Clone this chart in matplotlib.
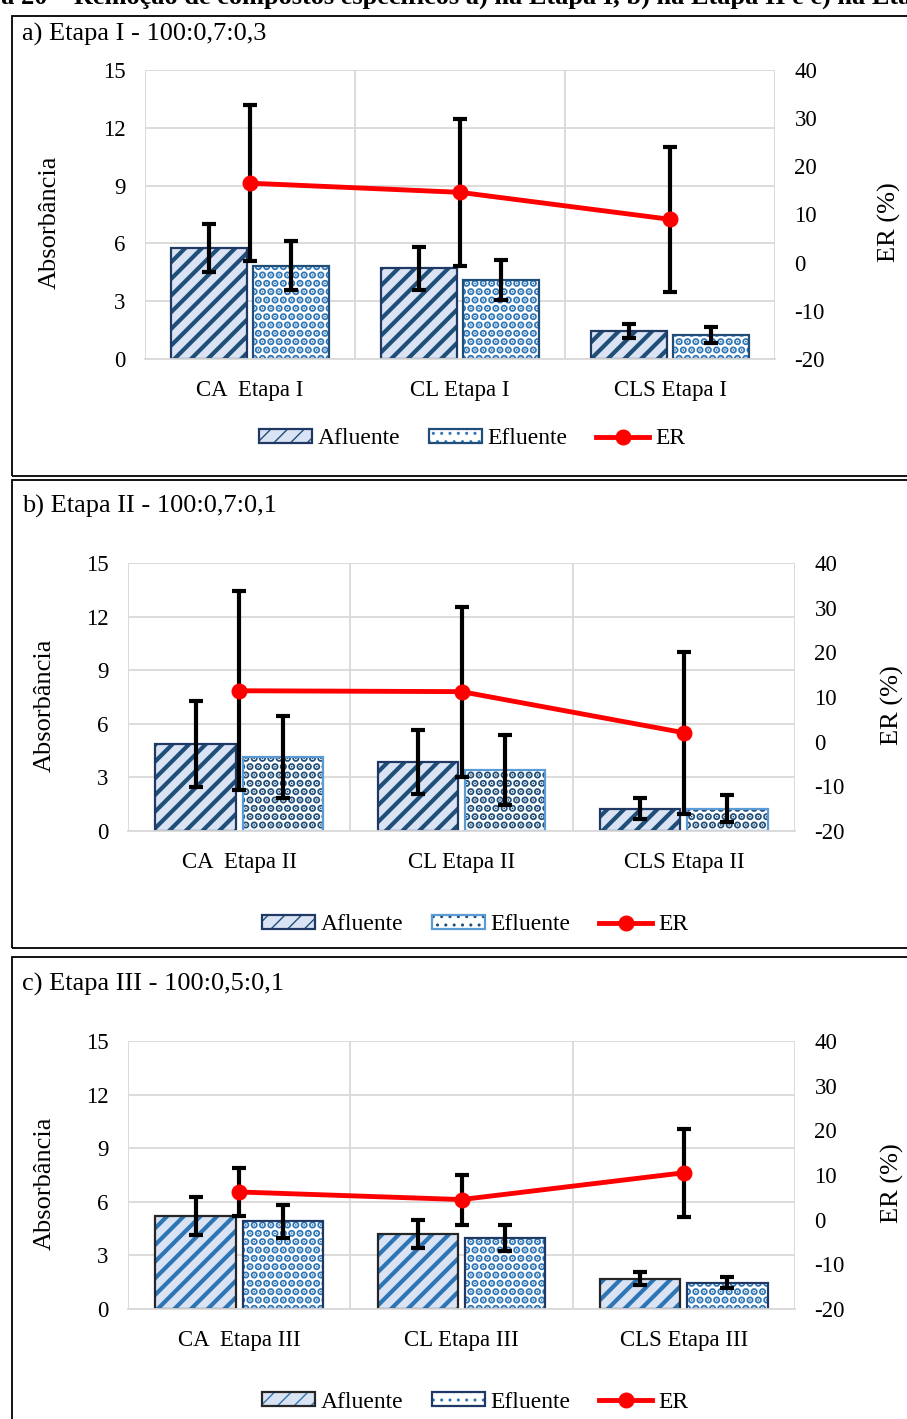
import matplotlib.pyplot as plt
from matplotlib.patches import Rectangle
from matplotlib.lines import Line2D
import numpy as np

plt.rcParams['font.family'] = ['Liberation Serif', 'DejaVu Serif']
plt.rcParams['font.size'] = 16.5
plt.rcParams['axes.unicode_minus'] = False

# dados de cada etapa
titulos = ['a) Etapa I - 100:0,7:0,3',
           'b) Etapa II - 100:0,7:0,1',
           'c) Etapa III - 100:0,5:0,1']
categorias = [['CA  Etapa I', 'CL Etapa I', 'CLS Etapa I'],
              ['CA  Etapa II', 'CL Etapa II', 'CLS Etapa II'],
              ['CA  Etapa III', 'CL Etapa III', 'CLS Etapa III']]

afluente = [[5.75, 4.7, 1.45], [4.85, 3.85, 1.25], [5.2, 4.2, 1.7]]
afluente_dp = [[1.25, 1.1, 0.35], [2.4, 1.8, 0.6], [1.05, 0.8, 0.38]]
efluente = [[4.85, 4.1, 1.25], [4.15, 3.4, 1.25], [4.9, 3.97, 1.48]]
efluente_dp = [[1.25, 1.05, 0.4], [2.3, 1.95, 0.75], [0.9, 0.75, 0.3]]
er = [[16.5, 14.6, 9.0], [11.4, 11.2, 2.0], [6.2, 4.5, 10.5]]
er_dp = [[16.2, 15.3, 15.0], [22.3, 19.0, 18.1], [5.3, 5.6, 9.9]]

yticks_abs = [0, 3, 6, 9, 12, 15]
yticks_er = [-20, -10, 0, 10, 20, 30, 40]

# cores: (preenchimento, hachura, borda)
cor_afl = [('#dae3f3', '#1f4e79', '#1f3864'),
           ('#dae3f3', '#1f4e79', '#1f3864'),
           ('#dae3f3', '#2e75b6', '#262626')]
cor_efl = [('white', '#2e75b6', '#1f4e79'),
           ('white', '#1f4e79', '#5b9bd5'),
           ('white', '#2e75b6', '#1f3864')]

W, H = 907, 1419
fig = plt.figure(figsize=(W / 100, H / 100), dpi=100)

# posicoes em pixels
eixos_px = [(145, 775, 70, 359), (128, 795, 563, 831), (128, 795, 1041, 1309)]
caixas_px = [(16, 476), (480, 948), (957, 1440)]
legenda_y = [439, 925, 1402]
legenda_x = [472, 475, 475]
titulo_y = [34, 506, 984]
ylabel_x = [50, 45, 45]
erlabel_x = [889, 892, 892]


def fx(px):
    return px / W


def fy(py):
    return 1 - py / H


fig.text(fx(-62), fy(4), 'Figura 20 – Remoção de compostos específicos a) na Etapa I, '
         'b) na Etapa II e c) na Etapa III', fontsize=19, fontweight='bold',
         va='baseline', ha='left')

for k in range(3):
    x0, x1, yt, yb = eixos_px[k]
    ax = fig.add_axes([fx(x0), fy(yb), fx(x1 - x0), (yb - yt) / H])
    ax2 = ax.twinx()
    ax.set_zorder(1)
    ax2.set_zorder(2)
    ax.patch.set_visible(False)

    x = np.arange(3)
    off, w = 0.196, 0.362
    with plt.rc_context({'hatch.linewidth': 3.0}):
        ha1 = ax.bar(x - off, afluente[k], w, color=cor_afl[k][0], edgecolor=cor_afl[k][1],
                     hatch='//', linewidth=0, zorder=2)
    ha2 = ax.bar(x - off, afluente[k], w, color='none', edgecolor=cor_afl[k][2],
                 linewidth=1.6, zorder=2.1)
    with plt.rc_context({'hatch.linewidth': 3.8}):
        he1 = ax.bar(x + off, efluente[k], w, color=cor_efl[k][0], edgecolor=cor_efl[k][1],
                     hatch='..', linewidth=0, zorder=2)
    he2 = ax.bar(x + off, efluente[k], w, color='none', edgecolor=cor_efl[k][2],
                 linewidth=1.6, zorder=2.1)
    ax.errorbar(x - off, afluente[k], yerr=afluente_dp[k], fmt='none', ecolor='black',
                elinewidth=3, capsize=5, capthick=3, zorder=3)
    ax.errorbar(x + off, efluente[k], yerr=efluente_dp[k], fmt='none', ecolor='black',
                elinewidth=3, capsize=5, capthick=3, zorder=3)

    ax2.errorbar(x, er[k], yerr=er_dp[k], fmt='none', ecolor='black',
                 elinewidth=3, capsize=5, capthick=3, zorder=3)
    ax2.plot(x, er[k], color='#ff0000', lw=3.5, marker='o', ms=10.5, zorder=4)

    ax.set_xlim(-0.5, 2.5)
    ax.set_ylim(0, 15)
    ax.set_yticks(yticks_abs)
    ax2.set_ylim(-20, 40)
    ax2.set_yticks(yticks_er)
    ax.set_xticks(x)
    ax.set_xticklabels(categorias[k])
    ax.set_xticks([-0.5, 0.5, 1.5, 2.5], minor=True)
    ax.grid(True, axis='y', which='major', color='#d9d9d9', lw=1.3, zorder=0)
    ax.grid(True, axis='x', which='minor', color='#d9d9d9', lw=1.3, zorder=0)
    ax.tick_params(axis='both', which='both', length=0)
    ax.tick_params(axis='x', pad=15)
    ax.tick_params(axis='y', pad=14)
    ax2.tick_params(axis='y', length=0, pad=14)
    for s in ax.spines.values():
        s.set_visible(False)
    for s in ax2.spines.values():
        s.set_visible(False)
    ax.spines['bottom'].set_visible(True)
    ax.spines['bottom'].set_color('#d9d9d9')
    ax.spines['bottom'].set_linewidth(1.3)

    fig.text(fx(ylabel_x[k]), fy((yt + yb) / 2 + 8), 'Absorbância', rotation=90,
             ha='center', va='center', fontsize=19)
    fig.text(fx(erlabel_x[k]), fy((yt + yb) / 2 + 8), 'ER (%)', rotation=90,
             ha='center', va='center', fontsize=19)
    fig.text(fx(22), fy(titulo_y[k]), titulos[k], ha='left', va='center', fontsize=19)

    # caixa do painel
    ct, cb = caixas_px[k]
    fig.patches.append(Rectangle((fx(12), fy(cb)), fx(1000), (cb - ct) / H,
                                 transform=fig.transFigure, fill=False,
                                 edgecolor='black', lw=1.3))

    h_er = Line2D([], [], color='#ff0000', lw=3.5, marker='o', ms=10.5)
    fig.legend([(ha1.patches[0], ha2.patches[0]), (he1.patches[0], he2.patches[0]), h_er],
               ['Afluente', 'Efluente', 'ER'], loc='center',
               bbox_to_anchor=(fx(legenda_x[k]), fy(legenda_y[k])), ncol=3,
               frameon=False, handlelength=2.25, handleheight=0.55, handletextpad=0.25,
               columnspacing=1.2, fontsize=17)

fig.savefig('out.png', dpi=100)
